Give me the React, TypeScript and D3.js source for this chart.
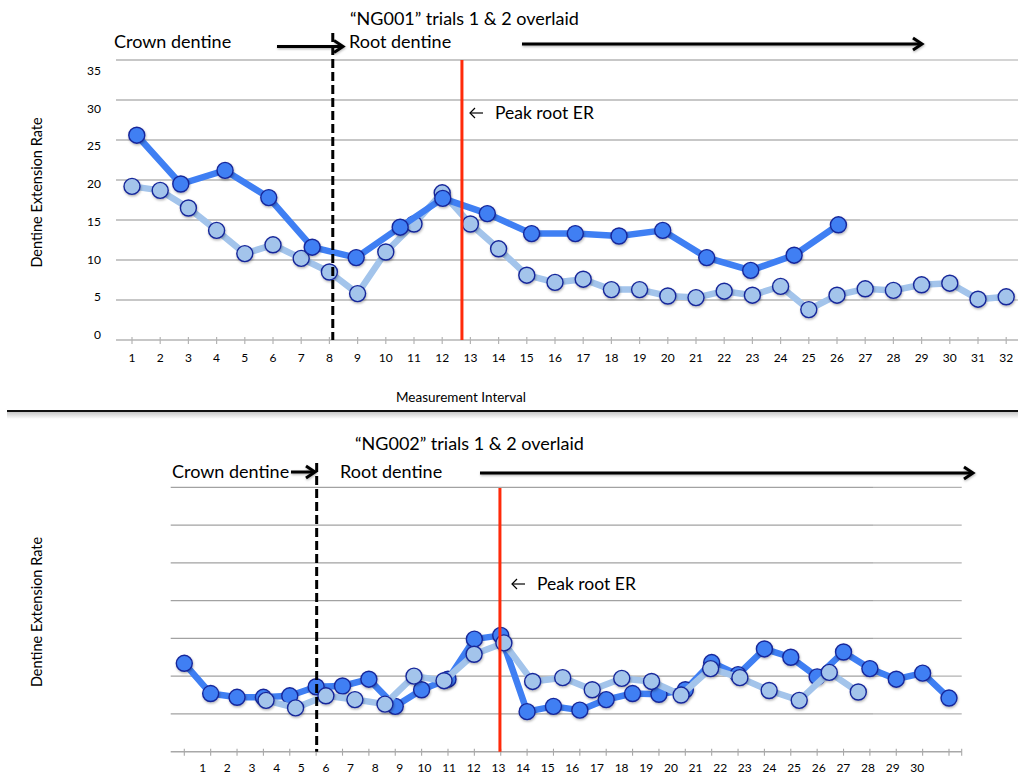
import React from 'react';
import * as d3 from 'd3';

// ---- NG001 ----
const ng001Intervals = [1, 2, 3, 4, 5, 6, 7, 8, 9, 10, 11, 12, 13, 14, 15, 16, 17, 18, 19, 20, 21, 22, 23, 24, 25, 26, 27, 28, 29, 30, 31, 32];
const ng001YTicks = [0, 5, 10, 15, 20, 25, 30, 35];
// trial 1: one reading per measurement interval
const ng001Trial1 = [19.2, 18.7, 16.5, 13.7, 10.8, 11.9, 10.2, 8.5, 5.8, 11.0, 14.5, 18.4, 14.5, 11.4, 8.1, 7.2, 7.6, 6.3, 6.3, 5.5, 5.3, 6.1, 5.6, 6.7, 3.8, 5.6, 6.4, 6.2, 6.9, 7.1, 5.1, 5.4];
// trial 2: fewer readings, spread over the same span
const ng001Trial2X = [1.17, 2.73, 4.3, 5.85, 7.39, 8.95, 10.51, 12.02, 13.6, 15.17, 16.72, 18.27, 19.82, 21.38, 22.94, 24.48, 26.05];
const ng001Trial2 = [25.6, 19.5, 21.2, 17.8, 11.6, 10.3, 14.1, 17.7, 15.8, 13.3, 13.3, 13.0, 13.7, 10.3, 8.7, 10.6, 14.4];
const ng001CrownRoot = 8.12;
const ng001PeakRoot = 12.7;

// ---- NG002 ----
const ng002Intervals = [1, 2, 3, 4, 5, 6, 7, 8, 9, 10, 11, 12, 13, 14, 15, 16, 17, 18, 19, 20, 21, 22, 23, 24, 25, 26, 27, 28, 29, 30];
const ng002Grid = [5, 10, 15, 20, 25, 30, 35];
const ng002Trial1 = [11.7, 7.7, 7.2, 7.2, 7.4, 8.6, 8.7, 9.6, 6.0, 8.2, 9.6, 14.9, 15.4, 5.3, 6.0, 5.5, 6.9, 7.7, 7.6, 8.2, 11.8, 10.2, 13.6, 12.5, 9.9, 13.2, 11.0, 9.6, 10.4, 7.1];
const ng002Trial2X = [4.1, 5.22, 6.37, 7.47, 8.61, 9.71, 10.85, 11.99, 13.12, 14.21, 15.35, 16.47, 17.59, 18.72, 19.84, 20.96, 22.07, 23.18, 24.32, 25.46, 26.56];
const ng002Trial2 = [6.8, 5.8, 7.4, 6.9, 6.3, 10.0, 9.4, 12.9, 14.4, 9.3, 9.8, 8.2, 9.7, 9.3, 7.5, 11.0, 9.8, 8.1, 6.8, 10.5, 7.9];
const ng002CrownRoot = 6.02;
const ng002PeakRoot = 12.97;

const FONT = 'Lato, "Open Sans", sans-serif';
const DARK = '#3f7ff3';
const LIGHT = '#a3c4eb';
const RIM = '#17279a';
const RED = '#ff2a0a';

type Pt = [number, number];

function Series({ pts, color, x, y }: { pts: Pt[]; color: string; x: (v: number) => number; y: (v: number) => number }) {
  const line = d3.line<Pt>().x(d => x(d[0])).y(d => y(d[1]));
  return (
    <g>
      <path d={line(pts) || ''} fill="none" stroke={color} strokeWidth={6.5} strokeLinejoin="round" />
      {pts.map((d, i) => (
        <circle key={i} cx={x(d[0])} cy={y(d[1])} r={8} fill={color} stroke={RIM} strokeWidth={1.4} filter="url(#dot-shadow)" />
      ))}
    </g>
  );
}

function Arrow({ x1, x2, y, w = 3 }: { x1: number; x2: number; y: number; w?: number }) {
  return (
    <g stroke="#000" strokeWidth={w} fill="none" filter="url(#arrow-shadow)">
      <line x1={x1} x2={x2 - 1} y1={y} y2={y} />
      <path d={`M${x2 - 9},${y - 6} L${x2},${y} L${x2 - 9},${y + 6}`} strokeLinejoin="miter" />
    </g>
  );
}

function PeakLabel({ x, y, size }: { x: number; y: number; size: number }) {
  // small thin left arrow followed by the label
  return (
    <g>
      <g stroke="#000" strokeWidth={1.2} fill="none">
        <line x1={x} x2={x + 13} y1={y - 6} y2={y - 6} />
        <path d={`M${x + 5},${y - 11} L${x},${y - 6} L${x + 5},${y - 1}`} />
      </g>
      <text x={x + 25} y={y} fontSize={size} fontFamily={FONT} fill="#000">Peak root ER</text>
    </g>
  );
}

function TopPanel() {
  const x = d3.scaleLinear().domain([1, 32]).range([132, 1006.2]);
  const y = d3.scaleLinear().domain([0, 35]).range([340, 60]);
  const yLab = d3.scaleLinear().domain([0, 35]).range([335, 71]);
  const left = 116;
  const right = 1018;
  const trial1: Pt[] = ng001Trial1.map((v, i) => [ng001Intervals[i], v]);
  const trial2: Pt[] = ng001Trial2.map((v, i) => [ng001Trial2X[i], v]);
  return (
    <g>
      {ng001YTicks.filter(t => t > 0).map(t => (
        <g key={t}>
          <line x1={left} x2={860} y1={y(t)} y2={y(t)} stroke="#b4b4b4" strokeWidth={1.6} />
          <line x1={860} x2={right} y1={y(t)} y2={y(t)} stroke="#c6c6c6" strokeWidth={1.3} />
        </g>
      ))}
      <line x1={left} x2={right} y1={y(0)} y2={y(0)} stroke="#b4b4b4" strokeWidth={1.6} />
      {ng001Intervals.map(i => (
        <line key={i} x1={x(i)} x2={x(i)} y1={y(0) - 3} y2={y(0) + 4} stroke="#b4b4b4" strokeWidth={1.2} />
      ))}
      {ng001YTicks.map(t => (
        <text key={t} x={101} y={yLab(t) + 4} textAnchor="end" fontSize={12} fontFamily={FONT} fill="#000">{t}</text>
      ))}
      {ng001Intervals.map(i => (
        <text key={i} x={x(i)} y={362} textAnchor="middle" fontSize={12} fontFamily={FONT} fill="#000">{i}</text>
      ))}
      <text x={461} y={402} textAnchor="middle" fontSize={13.5} fontFamily={FONT} fill="#000">Measurement Interval</text>
      <text transform="translate(41.5,192.5) rotate(-90)" textAnchor="middle" fontSize={14.5} fontFamily={FONT} fill="#000">Dentine Extension Rate</text>

      <Series pts={trial1} color={LIGHT} x={x} y={y} />
      <Series pts={trial2} color={DARK} x={x} y={y} />

      <line x1={x(ng001CrownRoot)} x2={x(ng001CrownRoot)} y1={33} y2={y(0)} stroke="#000" strokeWidth={3} strokeDasharray="9,4" />
      <line x1={x(ng001PeakRoot)} x2={x(ng001PeakRoot)} y1={y(35)} y2={y(0)} stroke={RED} strokeWidth={3} />

      <text x={350} y={25} fontSize={18} fontFamily={FONT} fill="#000">“NG001” trials 1 &amp; 2 overlaid</text>
      <text x={114} y={48} fontSize={18} fontFamily={FONT} fill="#000">Crown dentine</text>
      <Arrow x1={277} x2={343} y={46.5} />
      <text x={349} y={48} fontSize={18} fontFamily={FONT} fill="#000">Root dentine</text>
      <Arrow x1={522} x2={922} y={44} />
      <PeakLabel x={470} y={119} size={17.5} />
    </g>
  );
}

function BottomPanel() {
  const x = d3.scaleLinear().domain([1, 30]).range([184.3, 949]);
  const xLab = d3.scaleLinear().domain([1, 30]).range([202.7, 917.3]);
  const y = d3.scaleLinear().domain([0, 35]).range([751.7, 487.3]);
  const left = 170.7;
  const right = 961.7;
  const trial1: Pt[] = ng002Trial1.map((v, i) => [ng002Intervals[i], v]);
  const trial2: Pt[] = ng002Trial2.map((v, i) => [ng002Trial2X[i], v]);
  return (
    <g>
      {ng002Grid.map(t => (
        <g key={t}>
          <line x1={left} x2={873} y1={y(t)} y2={y(t)} stroke="#a2a2a2" strokeWidth={1.3} />
          <line x1={873} x2={right} y1={y(t)} y2={y(t)} stroke="#b2b2b2" strokeWidth={1.2} />
        </g>
      ))}
      <line x1={left} x2={right} y1={y(0)} y2={y(0)} stroke="#a8a8a8" strokeWidth={1.4} />
      {ng002Intervals.map(i => (
        <line key={i} x1={x(i)} x2={x(i)} y1={y(0) - 3} y2={y(0) + 4} stroke="#a8a8a8" strokeWidth={1.1} />
      ))}
      <line x1={right} x2={right} y1={y(0) - 3} y2={y(0) + 4} stroke="#a8a8a8" strokeWidth={1.1} />
      {ng002Intervals.map(i => (
        <text key={i} x={xLab(i)} y={772} textAnchor="middle" fontSize={12} fontFamily={FONT} fill="#000">{i}</text>
      ))}
      <text transform="translate(41.5,612) rotate(-90)" textAnchor="middle" fontSize={14.5} fontFamily={FONT} fill="#000">Dentine Extension Rate</text>

      <Series pts={trial1} color={DARK} x={x} y={y} />
      <Series pts={trial2} color={LIGHT} x={x} y={y} />

      <line x1={x(ng002CrownRoot)} x2={x(ng002CrownRoot)} y1={463} y2={y(0)} stroke="#000" strokeWidth={3} strokeDasharray="9,4" />
      <line x1={x(ng002PeakRoot)} x2={x(ng002PeakRoot)} y1={488} y2={y(0)} stroke={RED} strokeWidth={3} />

      <text x={355} y={450} fontSize={18} fontFamily={FONT} fill="#000">“NG002” trials 1 &amp; 2 overlaid</text>
      <text x={172} y={478} fontSize={18} fontFamily={FONT} fill="#000">Crown dentine</text>
      <Arrow x1={291} x2={315} y={472} />
      <text x={340} y={478} fontSize={18} fontFamily={FONT} fill="#000">Root dentine</text>
      <Arrow x1={480} x2={973} y={473} />
      <PeakLabel x={512} y={590} size={17.5} />
    </g>
  );
}

export default function App() {
  return (
    <svg width={1018} height={776} viewBox="0 0 1018 776" style={{ position: 'absolute', left: 0, top: 0, background: '#fff' }}>
      <defs>
        <filter id="dot-shadow" x="-50%" y="-50%" width="200%" height="200%">
          <feDropShadow dx={0.6} dy={1.4} stdDeviation={1} floodColor="#000" floodOpacity={0.3} />
        </filter>
        <filter id="arrow-shadow" x="-10%" y="-100%" width="120%" height="300%">
          <feDropShadow dx={0.5} dy={1.2} stdDeviation={0.8} floodColor="#000" floodOpacity={0.3} />
        </filter>
        <linearGradient id="sep-shade" x1="0" y1="0" x2="0" y2="1">
          <stop offset="0" stopColor="#c8c8c8" />
          <stop offset="1" stopColor="#ffffff" />
        </linearGradient>
      </defs>
      <rect x={0} y={0} width={1018} height={776} fill="#fff" />
      <TopPanel />
      <rect x={7} y={412} width={1011} height={7} fill="url(#sep-shade)" />
      <line x1={7} x2={1018} y1={411} y2={411} stroke="#111" strokeWidth={2} />
      <BottomPanel />
    </svg>
  );
}
